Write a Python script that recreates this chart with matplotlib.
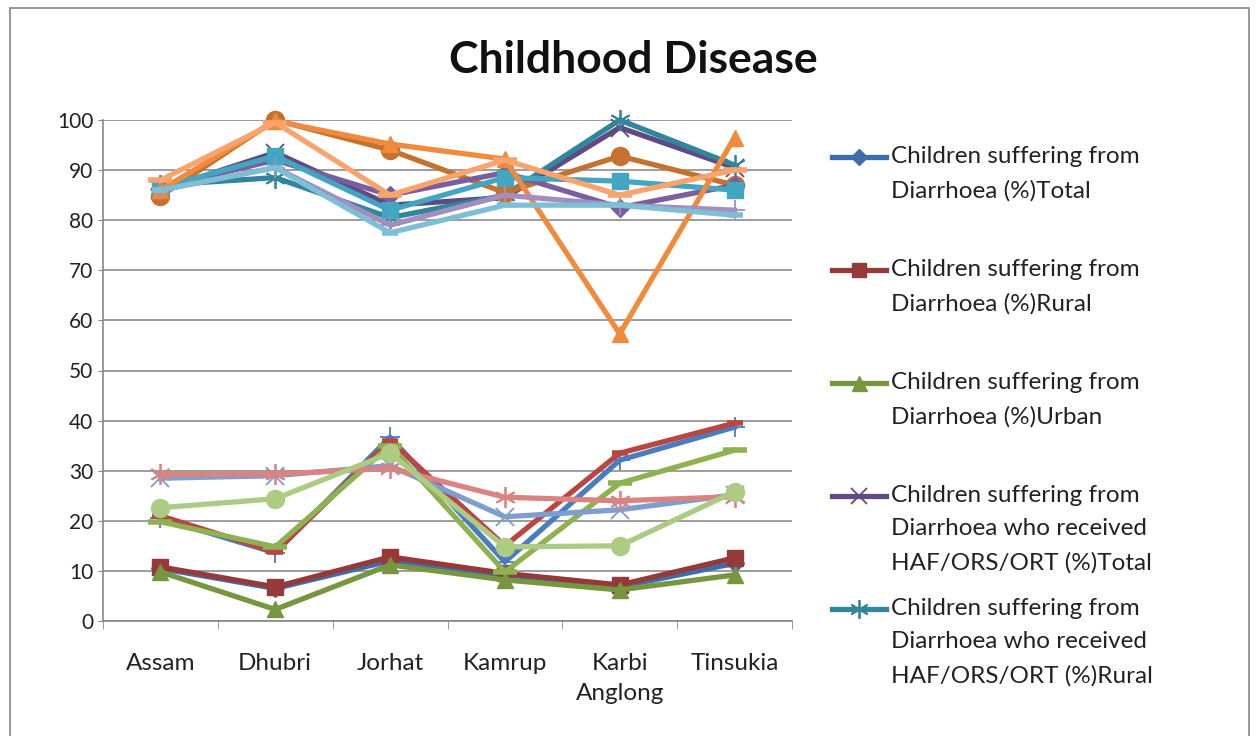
import matplotlib
matplotlib.use("Agg")
import matplotlib.pyplot as plt
from matplotlib.lines import Line2D
from matplotlib.patches import Rectangle

plt.rcParams['font.family'] = ['Lato', 'DejaVu Sans']

categories = ["Assam", "Dhubri", "Jorhat", "Kamrup", "Karbi\nAnglong", "Tinsukia"]

# diarrhoea prevalence and treatment, 18 series in Excel order
s01 = [10.5, 6.5, 12.0, 9.0, 6.8, 11.5]
s02 = [10.8, 6.8, 12.8, 9.5, 7.2, 12.6]
s03 = [9.8, 2.3, 11.2, 8.2, 6.2, 9.2]
s04 = [86.0, 93.5, 83.0, 84.5, 98.5, 90.5]
s05 = [87.0, 88.5, 80.5, 85.0, 100.0, 91.0]
s06 = [84.8, 100.0, 94.0, 85.5, 92.8, 87.0]
s07 = [20.5, 13.6, 36.7, 11.8, 32.1, 38.7]
s08 = [21.0, 13.8, 36.0, 15.0, 33.5, 39.5]
s09 = [19.8, 14.8, 35.0, 9.8, 27.5, 34.1]
s10 = [86.5, 92.0, 85.0, 89.5, 82.5, 87.0]
s11 = [86.5, 92.8, 82.0, 88.5, 87.8, 86.0]
s12 = [86.0, 99.8, 95.2, 92.2, 57.3, 96.5]
s13 = [28.5, 29.0, 31.0, 20.8, 22.2, 25.2]
s14 = [29.3, 29.3, 30.5, 24.7, 24.0, 24.8]
s15 = [22.6, 24.4, 33.5, 14.8, 15.0, 25.8]
s16 = [86.0, 90.5, 79.0, 85.0, 83.0, 82.0]
s17 = [86.0, 90.5, 77.5, 83.0, 83.0, 81.0]
s18 = [88.0, 99.5, 85.0, 92.0, 85.0, 90.0]

series = [s01, s02, s03, s04, s05, s06, s07, s08, s09,
          s10, s11, s12, s13, s14, s15, s16, s17, s18]

legend_names = [
    "Children suffering from\nDiarrhoea (%)Total",
    "Children suffering from\nDiarrhoea (%)Rural",
    "Children suffering from\nDiarrhoea (%)Urban",
    "Children suffering from\nDiarrhoea who received\nHAF/ORS/ORT (%)Total",
    "Children suffering from\nDiarrhoea who received\nHAF/ORS/ORT (%)Rural",
]

colors = [
    "#3F6DA9", "#953A38", "#76963F", "#5F4A84", "#31859C", "#C5712F",
    "#4A7CC0", "#B84744", "#8DB24F", "#7A5E9E", "#43A6C0", "#F08A3C",
    "#7E9ED0", "#D98382", "#AECB84", "#A18FBF", "#7EBFD6", "#F9A46C",
]
# Excel auto marker cycle: diamond, square, triangle, x, star, circle, plus, dash, long dash
marker_cycle = ["D", "s", "^", "x", (6, 2, 0), "o", "+", "_", "_"]
marker_size = [9, 11, 12, 13, 15, 13, 15, 11, 17]


def style_for(i):
    m = marker_cycle[i % 9]
    kw = dict(marker=m, markersize=marker_size[i % 9])
    if m in ("x", "+", "_") or isinstance(m, tuple):
        kw["markeredgewidth"] = 1.3 if m != "_" else 4
    return kw


fig = plt.figure(figsize=(12.56, 7.36), dpi=100)
fig.add_artist(Rectangle((10 / 1256, -0.05), 1239 / 1256, 1 - 8 / 736 + 0.05,
                         transform=fig.transFigure, fill=False,
                         edgecolor="#868686", linewidth=1.2))

ax = fig.add_axes([103 / 1256, 1 - 621 / 736, 689 / 1256, 501 / 736])
x = list(range(len(categories)))
for i, vals in enumerate(series):
    ax.plot(x, vals, color=colors[i], linewidth=3.8, solid_joinstyle="round",
            zorder=3 + i, clip_on=False, **style_for(i))

ax.set_xlim(-0.5, len(categories) - 0.5)
ax.set_ylim(0, 100)
ax.set_yticks(range(0, 101, 10))
ax.set_xticks(x)
ax.set_xticklabels(categories)
ax.set_xticks([k - 0.5 for k in range(len(categories) + 1)], minor=True)
ax.tick_params(axis="x", which="major", length=0, pad=23, labelsize=17.5,
               labelcolor="#222222")
ax.tick_params(axis="x", which="minor", length=6, color="#868686", direction="out")
ax.tick_params(axis="y", length=3.5, color="#868686", labelsize=15,
               labelcolor="#222222", pad=3.5)
for lbl in ax.get_xticklabels():
    lbl.set_linespacing(1.55)
ax.grid(axis="y", color="#8c8c8c", linewidth=1.2)
ax.set_axisbelow(True)
for side in ("top", "right"):
    ax.spines[side].set_visible(False)
for side in ("left", "bottom"):
    ax.spines[side].set_color("#868686")
    ax.spines[side].set_linewidth(1.2)

fig.text(633 / 1256, 1 - 60 / 736, "Childhood Disease", ha="center", va="center",
         fontsize=32, fontweight="bold", color="#111111")

# legend (only the first five entries fit in the chart area)
entry_tops = [157, 270, 383, 496, 609]
for i, (name, ytop) in enumerate(zip(legend_names, entry_tops)):
    yf = 1 - ytop / 736
    fig.add_artist(Line2D([832 / 1256, 886 / 1256], [yf, yf], transform=fig.transFigure,
                          color=colors[i], linewidth=3.8))
    kw = style_for(i)
    kw["markersize"] = kw["markersize"] * 0.9
    fig.add_artist(Line2D([859 / 1256], [yf], transform=fig.transFigure,
                          color=colors[i], linestyle="none", **kw))
    fig.text(891 / 1256, yf + 11 / 736, name, ha="left", va="top", fontsize=17.5,
             color="#222222", linespacing=1.72)

fig.savefig("out.png", dpi=100)
